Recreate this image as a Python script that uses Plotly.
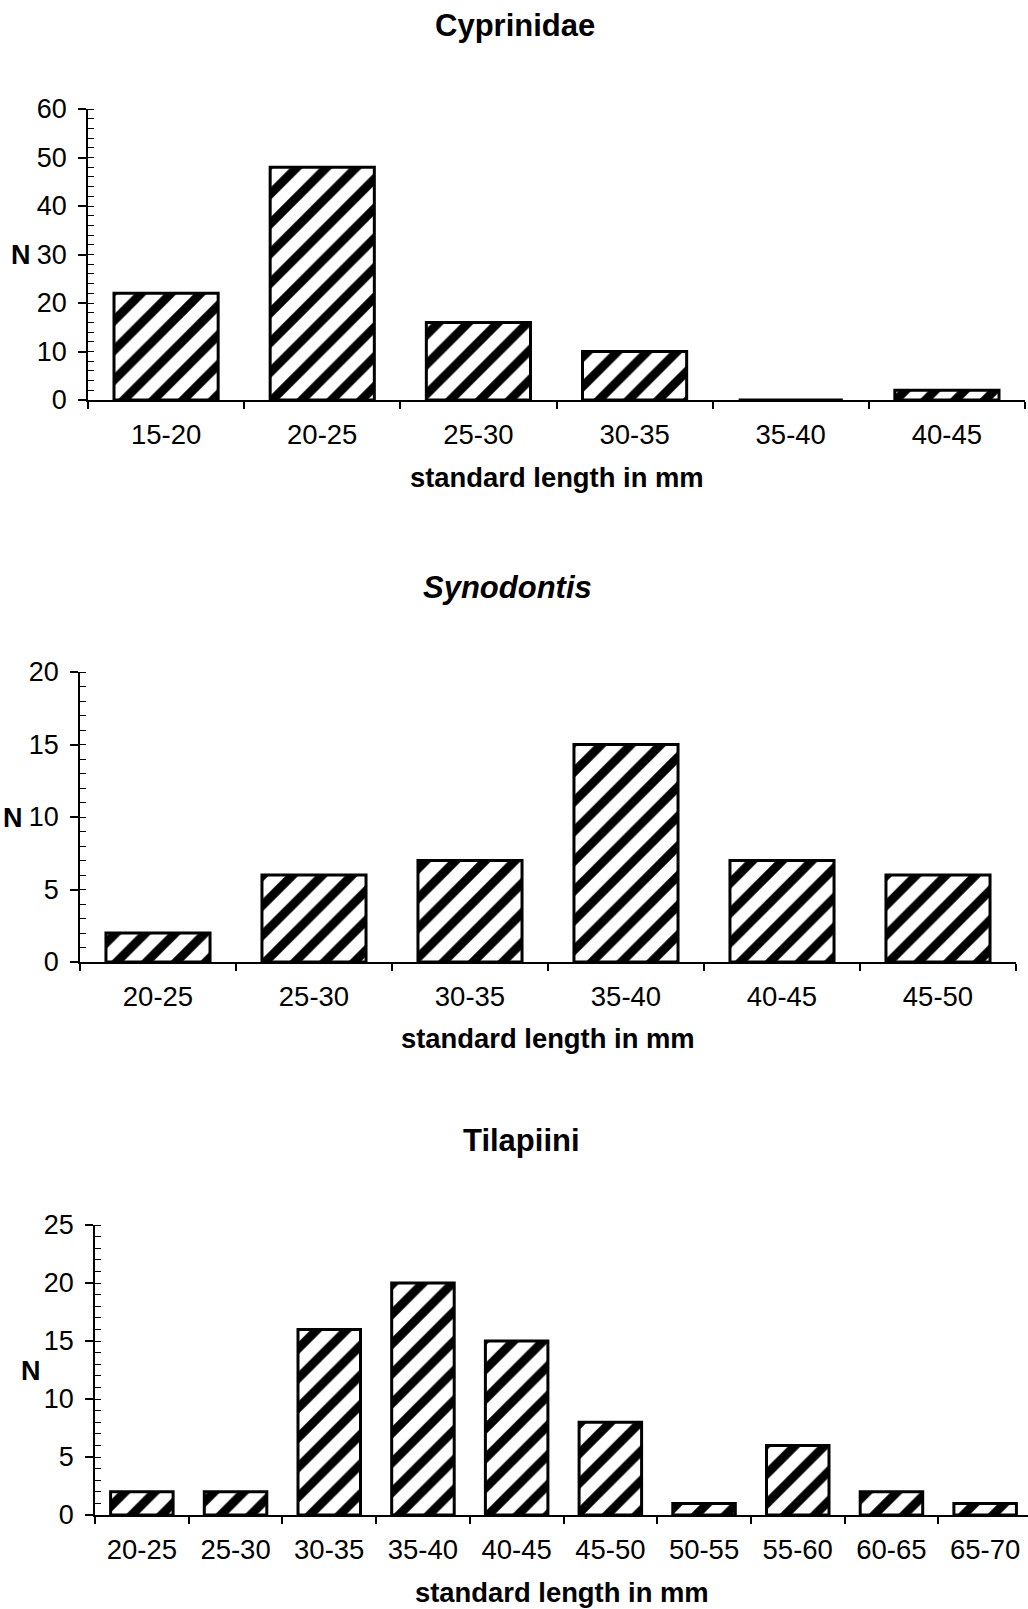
import plotly.graph_objects as go

W, H = 1028, 1609

# ---- data ----
cyp_cats = ["15-20", "20-25", "25-30", "30-35", "35-40", "40-45"]
cyp_vals = [22, 48, 16, 10, 0, 2]

syn_cats = ["20-25", "25-30", "30-35", "35-40", "40-45", "45-50"]
syn_vals = [2, 6, 7, 15, 7, 6]

til_cats = ["20-25", "25-30", "30-35", "35-40", "40-45", "45-50",
            "50-55", "55-60", "60-65", "65-70"]
til_vals = [2, 2, 16, 20, 15, 8, 1, 6, 2, 1]

titles = ["Cyprinidae", "<i>Synodontis</i>", "Tilapiini"]
xtitle = "standard length in mm"
ylabel = "N"

# ---- geometry (pixels) ----
panels = [
    dict(cats=cyp_cats, vals=cyp_vals, x0=88, x1=1025, ytop=109, ybot=400,
         ymax=60, dtick=10, minor=2, xmax=5.5,
         title_xy=(515, 25), xt_xy=(557, 477), n_xy=(21, 255)),
    dict(cats=syn_cats, vals=syn_vals, x0=80, x1=1016, ytop=672, ybot=962,
         ymax=20, dtick=5, minor=1, xmax=5.5,
         title_xy=(507, 587), xt_xy=(548, 1038), n_xy=(13, 818)),
    dict(cats=til_cats, vals=til_vals, x0=95, x1=1028, ytop=1225, ybot=1515,
         ymax=25, dtick=5, minor=1, xmax=9.5 - 4 / 93.7,
         title_xy=(521, 1140), xt_xy=(562, 1592), n_xy=(31, 1371)),
]

FONT = "Liberation Sans, Arial, sans-serif"

fig = go.Figure()
annotations = []
for i, p in enumerate(panels, start=1):
    xa = "x" if i == 1 else f"x{i}"
    ya = "y" if i == 1 else f"y{i}"
    fig.add_trace(go.Bar(
        x=p["cats"], y=p["vals"], xaxis=xa, yaxis=ya, width=0.667,
        marker=dict(color="white",
                    line=dict(color="black", width=3),
                    pattern=dict(shape="/", size=21, solidity=0.42,
                                 fgcolor="black", bgcolor="white",
                                 fgopacity=1, fillmode="replace")),
        showlegend=False, hoverinfo="skip"))
    xkey = "xaxis" if i == 1 else f"xaxis{i}"
    ykey = "yaxis" if i == 1 else f"yaxis{i}"
    fig.update_layout({
        xkey: dict(domain=[p["x0"] / W, p["x1"] / W], anchor=ya,
                   type="category", range=[-0.5, p["xmax"]],
                   showline=True, linecolor="black", linewidth=1.5,
                   ticks="outside", ticklen=7, tickwidth=1.5, tickcolor="black",
                   tickson="boundaries", showgrid=False, zeroline=False,
                   tickfont=dict(family=FONT, size=27.5, color="black"),
                   ticklabelstandoff=9, fixedrange=True, automargin=False),
        ykey: dict(domain=[1 - p["ybot"] / H, 1 - p["ytop"] / H], anchor=xa,
                   range=[0, p["ymax"]], dtick=p["dtick"], tick0=0,
                   showline=True, linecolor="black", linewidth=1.5,
                   ticks="outside", ticklen=8, tickwidth=1.5, tickcolor="black",
                   minor=dict(dtick=p["minor"], ticks="inside", ticklen=6,
                              tickwidth=1.2, tickcolor="black", showgrid=False),
                   showgrid=False, zeroline=False,
                   tickfont=dict(family=FONT, size=27, color="black"),
                   ticklabelstandoff=6, fixedrange=True, automargin=False),
    })
    tx, ty = p["title_xy"]
    annotations.append(dict(text=f"<b>{titles[i-1]}</b>", x=tx / W, y=1 - ty / H,
                            xref="paper", yref="paper", showarrow=False,
                            xanchor="center", yanchor="middle",
                            font=dict(family=FONT, size=31, color="black")))
    xx, xy = p["xt_xy"]
    annotations.append(dict(text=f"<b>{xtitle}</b>", x=xx / W, y=1 - xy / H,
                            xref="paper", yref="paper", showarrow=False,
                            xanchor="center", yanchor="middle",
                            font=dict(family=FONT, size=27.4, color="black")))
    nx, ny = p["n_xy"]
    annotations.append(dict(text=f"<b>{ylabel}</b>", x=nx / W, y=1 - ny / H,
                            xref="paper", yref="paper", showarrow=False,
                            xanchor="center", yanchor="middle",
                            font=dict(family=FONT, size=27, color="black")))

fig.update_layout(width=W, height=H, autosize=False,
                  margin=dict(l=0, r=0, t=0, b=0, pad=0, autoexpand=False),
                  paper_bgcolor="white", plot_bgcolor="white",
                  annotations=annotations, bargap=0.33)

fig.write_html("out.html",
               config={"displayModeBar": False, "responsive": False},
               post_script=(
                   "document.documentElement.style.margin='0';"
                   "document.body.style.margin='0';"
                   "document.body.style.overflow='hidden';"
                   "var d=document.getElementById('{plot_id}');"
                   "d.style.position='fixed';d.style.top='0px';d.style.left='0px';"))
